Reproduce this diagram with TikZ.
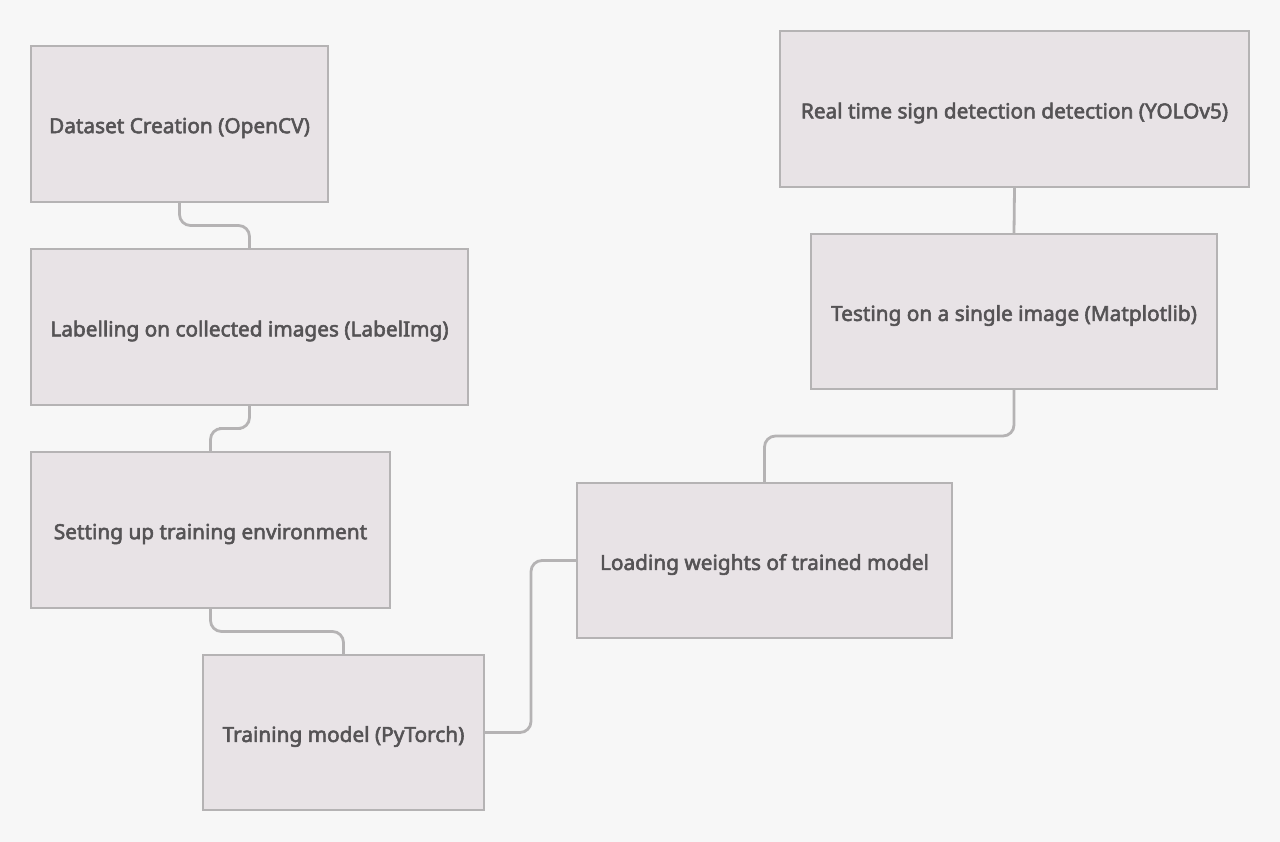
\documentclass[tikz,border=0pt]{standalone}
\usepackage{fontspec}
\setmainfont{Noto Sans}
\newcommand\medtext[1]{\special{pdf:literal direct 2 Tr 0.55 w}#1\special{pdf:literal direct 0 Tr}}
\usetikzlibrary{calc}
\definecolor{bg}{HTML}{F7F7F7}
\definecolor{boxfill}{HTML}{E8E3E6}
\definecolor{boxline}{HTML}{B5B3B4}
\definecolor{txt}{HTML}{555355}
\tikzset{
  stepbox/.style={draw=boxline, fill=boxfill, line width=2pt, inner sep=0pt, anchor=center},
  lbl/.style={text=txt, font=\fontsize{20.8}{24}\selectfont, inner sep=0pt, yshift=-4pt},
  link/.style={draw=boxline, line width=2.8pt, rounded corners=11pt}
}
\begin{document}
\begin{tikzpicture}[x=1pt,y=-1pt]
\fill[bg] (0,0) rectangle (1280,842);
\useasboundingbox (0,0) rectangle (1280,842);
\node[stepbox, minimum width=297pt, minimum height=156pt] (n1) at (179.5,124) {};
\node[stepbox, minimum width=437pt, minimum height=156pt] (n2) at (249.5,327) {};
\node[stepbox, minimum width=359pt, minimum height=156pt] (n3) at (210.5,530) {};
\node[stepbox, minimum width=281pt, minimum height=155pt] (n4) at (343.5,732.5) {};
\node[stepbox, minimum width=375pt, minimum height=155pt] (n5) at (764.5,560.5) {};
\node[stepbox, minimum width=406pt, minimum height=155pt] (n6) at (1014,311.5) {};
\node[stepbox, minimum width=469pt, minimum height=156pt] (n7) at (1014.5,109) {};
\node[lbl] (t1) at (n1.center) {\medtext{Dataset Creation (OpenCV)}};
\node[lbl] (t2) at (n2.center) {\medtext{Labelling on collected images (LabelImg)}};
\node[lbl] (t3) at (n3.center) {\medtext{Setting up training environment}};
\node[lbl] (t4) at (n4.center) {\medtext{Training model (PyTorch)}};
\node[lbl] (t5) at (n5.center) {\medtext{Loading weights of trained model}};
\node[lbl] (t6) at (n6.center) {\medtext{Testing on a single image (Matplotlib)}};
\node[lbl] (t7) at (n7.center) {\medtext{Real time sign detection detection (YOLOv5)}};
\draw[link] (n1.south) |- ($(n1.south)!.5!(n2.north)$) -| (n2.north);
\draw[link] (n2.south) |- ($(n2.south)!.5!(n3.north)$) -| (n3.north);
\draw[link] (n3.south) |- ($(n3.south)!.5!(n4.north)$) -| (n4.north);
\draw[link] (n4.east) -- ++(46,0) |- (n5.west);
\draw[link] (n5.north) |- ($(n5.north)!.5!(n6.south)$) -| (n6.south);
\draw[link] (n6.north) -- (n7.south);
\end{tikzpicture}
\end{document}
